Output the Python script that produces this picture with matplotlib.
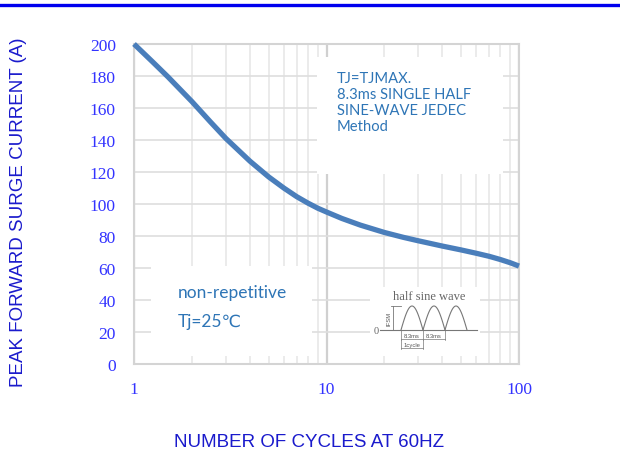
import numpy as np
import matplotlib
matplotlib.use("Agg")
import matplotlib.pyplot as plt
from matplotlib.patches import Rectangle
from matplotlib.lines import Line2D

# ---- data ----
cycles = [1, 1.25, 1.5, 2, 2.5, 3, 4, 5, 6, 7, 8, 9, 10, 12, 15, 20, 25, 30, 40, 50, 60, 70, 80, 90, 100]
current = [200, 188.8, 179.5, 164, 151.2, 141, 126.8, 117, 110, 104.6, 100.6, 97.4, 95,
           91, 86.8, 82.2, 79.2, 77, 73.7, 71.3, 69.2, 67.3, 65.3, 63.3, 61.2]
yticks = [0, 20, 40, 60, 80, 100, 120, 140, 160, 180, 200]
xticks = [1, 10, 100]
xtick_labels = ["1", "10", "100"]

W, H = 620, 456
fig = plt.figure(figsize=(W / 100, H / 100), dpi=100)

# axes in pixel geometry
L, R, T, B = 134, 519, 45, 365
ax = fig.add_axes([L / W, 1 - B / H, (R - L) / W, (B - T) / H])
ax.set_xscale("log")
ax.set_xlim(1, 100)
ax.set_ylim(0, 200)

serif = "Liberation Serif"
tick_col = "#3333ff"
lab_col = "#1a1acc"
ax.set_yticks(yticks)
ax.set_yticklabels([str(v) for v in yticks], fontfamily=serif, fontsize=12.5, color=tick_col)
ax.set_xticks(xticks)
ax.set_xticklabels(xtick_labels, fontfamily=serif, fontsize=12.5, color=tick_col)
ax.xaxis.set_minor_formatter(matplotlib.ticker.NullFormatter())
ax.tick_params(axis="both", which="both", length=0)
ax.tick_params(axis="x", pad=12)
ax.tick_params(axis="y", pad=13)

# grid
ax.set_xticks([v * d for d in (1, 10) for v in range(2, 10)], minor=True)
ax.grid(True, which="minor", axis="x", color="#e8e8e8", lw=1.2)
ax.grid(True, which="major", axis="x", color="#d0d0d0", lw=1.6)
ax.grid(True, which="major", axis="y", color="#dedede", lw=1.2)
ax.set_axisbelow(True)
for s in ax.spines.values():
    s.set_color("#d4d4d4")
    s.set_linewidth(1.5)


def px_box(x0, y0, x1, y1):
    return ((x0 - L) / (R - L), (B - y1) / (B - T), (x1 - x0) / (R - L), (y1 - y0) / (B - T))


for (x0, y0, x1, y1) in [(317, 58, 503, 175), (151, 267, 312, 357), (370, 288, 480, 357)]:
    bx, by, bw, bh = px_box(x0, y0, x1, y1)
    ax.add_patch(Rectangle((bx, by), bw, bh, transform=ax.transAxes,
                           facecolor="white", edgecolor="none", zorder=1.5))

# curve
ax.plot(cycles, current, color="#4a7ebb", lw=3.8, solid_capstyle="butt",
        solid_joinstyle="round", zorder=3, clip_on=False)

# annotations
ann_col = "#2e75b6"
fams = ["Lato", "DejaVu Sans"]
fig.text(337 / W, 1 - 72 / H, "TJ=TJMAX.\n8.3ms SINGLE HALF\nSINE-WAVE JEDEC\nMethod",
         family=fams, fontsize=10.6, color=ann_col, va="top", ha="left", linespacing=1.17)
fig.text(178 / W, 1 - 293 / H, "non-repetitive", family=fams, fontsize=12.5,
         color=ann_col, va="center", ha="left")
fig.text(178 / W, 1 - 322 / H, "Tj=25\u2103", family=fams, fontsize=12.5,
         color=ann_col, va="center", ha="left")

# axis labels
fig.text(19 / W, 1 - 212 / H, "PEAK FORWARD SURGE CURRENT (A)", rotation=90,
         family="Liberation Sans", fontsize=13.5, color=lab_col, va="center", ha="center")
fig.text(309 / W, 1 - 443 / H, "NUMBER OF CYCLES AT 60HZ",
         family="Liberation Sans", fontsize=13.5, color=lab_col, va="center", ha="center")

# top blue rule
fig.add_artist(Line2D([0, 1], [1 - 5.5 / H, 1 - 5.5 / H], color="#0000ee", lw=2.4))

# half sine wave inset (pixel coords)
ix0, iy0, ix1, iy1 = 370, 288, 480, 357
iax = fig.add_axes([ix0 / W, 1 - iy1 / H, (ix1 - ix0) / W, (iy1 - iy0) / H])
iax.set_xlim(ix0, ix1)
iax.set_ylim(iy1, iy0)
iax.axis("off")
g = "#777777"
iax.text(429, 297, "half sine wave", family=serif, fontsize=9, color="#666666",
         ha="center", va="center")
iax.text(376, 332, "0", family=serif, fontsize=7.5, color="#666666", ha="center", va="center")
iax.plot([380, 477], [331, 331], color=g, lw=0.8)
for a in (401, 423, 445):
    t = np.linspace(0, 1, 40)
    iax.plot(a + 22 * t, 331 - 24 * np.sin(np.pi * t), color=g, lw=0.8)
iax.plot([393, 393], [307, 331], color=g, lw=0.6)
iax.plot([391, 401], [307, 307], color=g, lw=0.6)
iax.text(389, 319, "IFSM", rotation=90, family="Liberation Sans", fontsize=4.2,
         color="#555555", ha="center", va="center")
for xv in (401, 423, 445):
    iax.plot([xv, xv], [331, 341], color=g, lw=0.5)
iax.plot([401, 445], [340, 340], color=g, lw=0.5)
iax.text(412, 337, "8.3ms", family="Liberation Sans", fontsize=4.2, color="#555555",
         ha="center", va="center")
iax.text(434, 337, "8.3ms", family="Liberation Sans", fontsize=4.2, color="#555555",
         ha="center", va="center")
iax.plot([401, 401], [341, 350], color=g, lw=0.5)
iax.plot([423, 423], [341, 350], color=g, lw=0.5)
iax.plot([401, 423], [349, 349], color=g, lw=0.5)
iax.text(412, 345, "1cycle", family="Liberation Sans", fontsize=4.2, color="#555555",
         ha="center", va="center")

fig.savefig("out.png", dpi=100)
